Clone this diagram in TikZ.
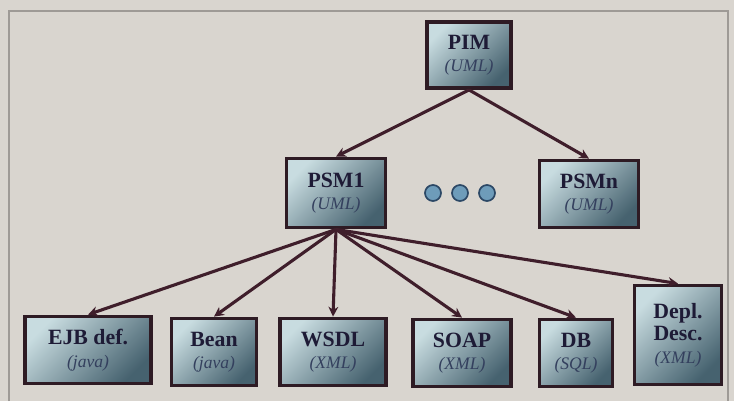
\documentclass[tikz,border=0pt]{standalone}
\usepackage{fontspec}
\setmainfont{Liberation Serif}
\usetikzlibrary{arrows.meta}
\definecolor{bgpaper}{HTML}{D9D5CF}
\definecolor{framegray}{HTML}{9E9A96}
\definecolor{edgedark}{HTML}{2E1B24}
\definecolor{linkred}{HTML}{3F1E2B}
\definecolor{boxlight}{HTML}{C8DCE0}
\definecolor{boxdark}{HTML}{46626F}
\definecolor{titleink}{HTML}{1E1B36}
\definecolor{subink}{HTML}{34405E}
\definecolor{dotfill}{HTML}{6E9CBA}
\definecolor{dotedge}{HTML}{2C4866}
\newcommand{\sbt}{\fontsize{12.5pt}{16pt}\selectfont\mdseries\itshape\color{subink}}
\tikzset{arrow/.style={draw=#1,-{Stealth[length=7pt,width=7pt]},line width=2.2pt}}
\tikzset{arrow/.default={linkred}}
\tikzset{model/.style={draw=edgedark,line width=2.7pt,top color=boxlight,bottom color=boxdark,shading angle=45,
    align=center,inner sep=2pt,text=titleink,font={\fontsize{15.5pt}{16pt}\selectfont\bfseries}}}
\tikzset{dot/.style={circle,fill=dotfill,draw=dotedge,line width=1.2pt,minimum size=0.4cm,inner sep=0pt}}

\begin{document}
\begin{tikzpicture}[x=0.025cm,y=-0.025cm]
        \useasboundingbox (0,0) rectangle (734,401);
        \fill[bgpaper] (0,0) rectangle (734,401);
        \draw[framegray,line width=0.8pt] (9,401) -- (9,11) -- (728,11) -- (728,401);

        \node[model,minimum width=2.1cm,minimum height=1.65cm] (pim) at (469,55) {PIM\\{\sbt (UML)}};
        \node[model,minimum width=2.475cm,minimum height=1.725cm] (psm1) at (336,193) {PSM1\\{\sbt (UML)}};
        \node[model,minimum width=2.475cm,minimum height=1.675cm] (psmn) at (589,194) {PSMn\\{\sbt (UML)}};
        \foreach \d\x in {1/433, 2/460, 3/487}{
            \node[dot] (dot\d) at (\x,193) {};
        }
        \path[arrow] (pim.south) -- (psm1.north);
        \path[arrow] (pim.south) -- (psmn.north);

        \foreach \n\x\y\w\h\t\s in {ejb/88/350/126/67/EJB def./java, bean/214/352/85/67/Bean/java,
                wsdl/333/352/106/67/WSDL/XML, soap/462/353/98/67/SOAP/XML, db/576/353/73/67/DB/SQL,
                depl/678/335/87/99/{Depl.\\Desc.}/XML}{
            \node[model,minimum width={\w*0.025cm},minimum height={\h*0.025cm}] (\n) at (\x,\y) {\t\\{\sbt (\s)}};
            \path[arrow] (psm1.south) -- (\n.north);
        }
    \end{tikzpicture}
\end{document}
